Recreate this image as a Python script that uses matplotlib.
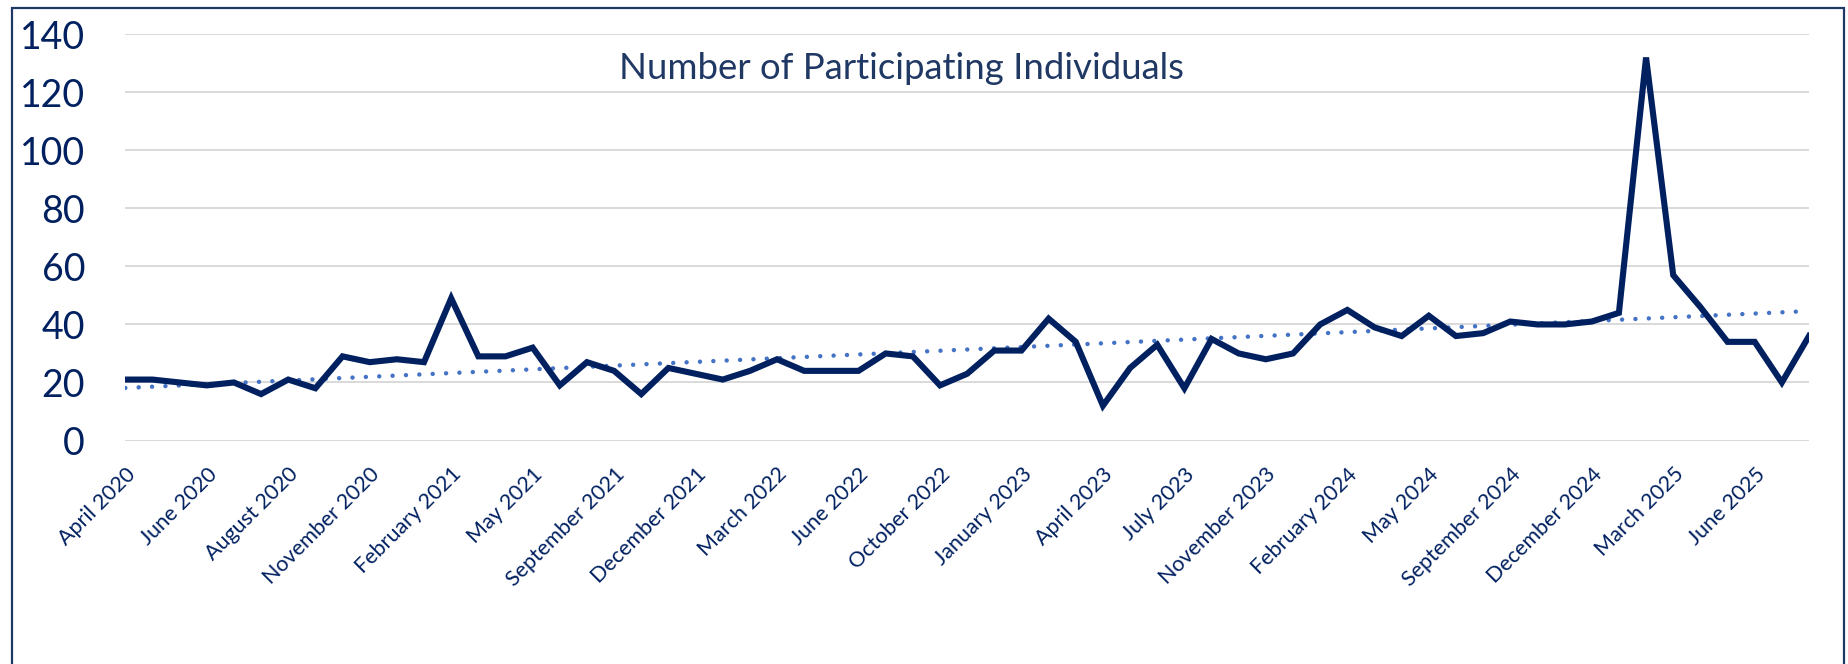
import numpy as np
import matplotlib
matplotlib.use("Agg")
import matplotlib.pyplot as plt
from matplotlib.patches import Rectangle

# ---- data ----
title = "Number of Participating Individuals"
tick_labels = ["April 2020", "June 2020", "August 2020", "November 2020", "February 2021",
               "May 2021", "September 2021", "December 2021", "March 2022", "June 2022",
               "October 2022", "January 2023", "April 2023", "July 2023", "November 2023",
               "February 2024", "May 2024", "September 2024", "December 2024", "March 2025",
               "June 2025"]
label_step = 3
values = [21, 21, 20, 19, 20, 16, 21, 18, 29, 27,
          28, 27, 49, 29, 29, 32, 19, 27, 24, 16,
          25, 23, 21, 24, 28, 24, 24, 24, 30, 29,
          19, 23, 31, 31, 42, 34, 12, 25, 33, 18,
          35, 30, 28, 30, 40, 45, 39, 36, 43, 36,
          37, 41, 40, 40, 41, 44, 132, 57, 46, 34,
          34, 20, 36]
y_ticks = [0, 20, 40, 60, 80, 100, 120, 140]

# ---- style ----
plt.rcParams['font.family'] = ['Lato', 'DejaVu Sans']
navy = '#002060'
trend_col = '#4472C4'

W, H = 1849, 664
fig = plt.figure(figsize=(W / 100, H / 100), dpi=100)
ax = fig.add_axes([125.3 / W, 1 - 440.5 / H, (1809 - 125.3) / W, (440.5 - 34.3) / H])

x = np.arange(len(values))
ax.plot(x, values, color=navy, lw=4.4, solid_joinstyle='miter', zorder=3)

coef = np.polyfit(x, values, 1)
trend = np.polyval(coef, x)
ax.plot(x, trend, color=trend_col, lw=3.2, linestyle=(0, (0.01, 3.0)),
        dash_capstyle='round', zorder=2)

ax.set_xlim(0, len(values) - 1)
ax.set_ylim(0, 140)
ax.set_yticks(y_ticks)
ax.set_yticklabels([str(v) for v in y_ticks], fontsize=27, color=navy)
ax.yaxis.grid(True, color='#D9D9D9', lw=1.4)
ax.set_axisbelow(True)
for s in ax.spines.values():
    s.set_visible(False)
ax.tick_params(axis='both', length=0)
ax.tick_params(axis='y', pad=29)

xt = x[::label_step][:len(tick_labels)]
ax.set_xticks(xt)
ax.set_xticklabels(tick_labels, rotation=45, ha='right', va='top',
                   rotation_mode='anchor', fontsize=15.5, color=navy)
ax.tick_params(axis='x', pad=17)

ax.text(901 / W, 1 - 79 / H, title, transform=fig.transFigure, ha='center', va='baseline',
        fontsize=26.3, color='#203864')

fig.patches.append(Rectangle((12 / W, -0.05), (1844 - 12) / W, 1.05 - 8 / H,
                             transform=fig.transFigure, fill=False,
                             edgecolor='#203864', lw=1.6))

fig.savefig('out.png', dpi=100)
